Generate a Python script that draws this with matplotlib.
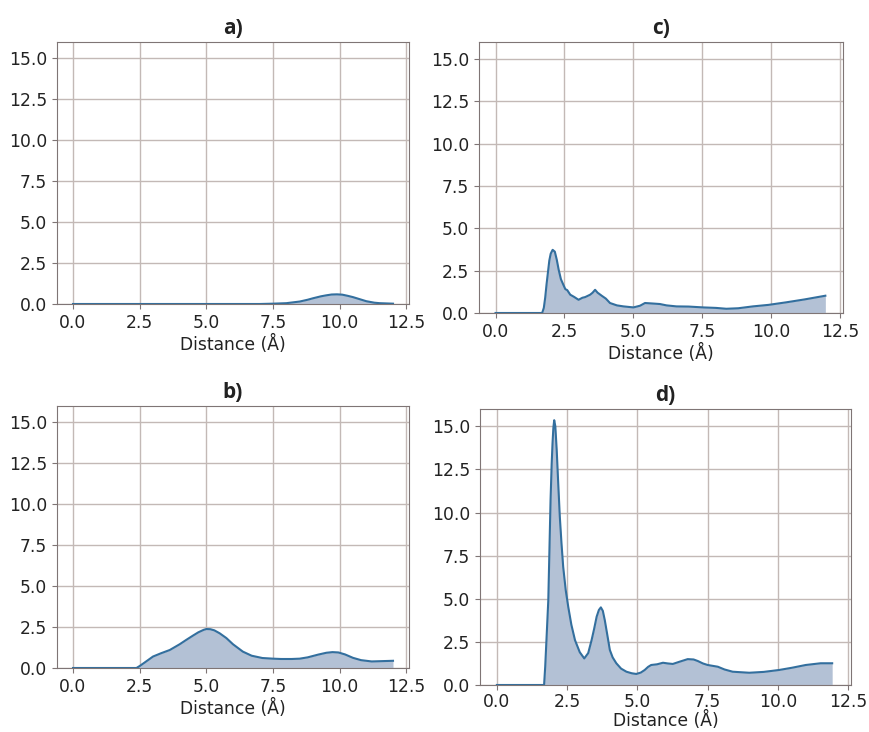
import matplotlib.pyplot as plt
import matplotlib

matplotlib.rcParams.update({'font.size': 12.3, 'text.color': '#222222',
                            'xtick.color': '#222222', 'ytick.color': '#222222',
                            'axes.labelcolor': '#222222'})

# panel a
xa = [0.0, 7.0, 7.5, 8.0, 8.5, 8.8, 9.0, 9.3, 9.5, 9.7, 9.9, 10.1, 10.3, 10.5, 10.8,
      11.0, 11.3, 11.5, 12.0]
ya = [0.0, 0.0, 0.02, 0.05, 0.15, 0.26, 0.35, 0.47, 0.53, 0.58, 0.59, 0.57, 0.5,
      0.42, 0.27, 0.17, 0.08, 0.05, 0.02]

# panel b
xb = [0.0, 2.38, 2.5, 2.7, 3.0, 3.3, 3.63, 4.0, 4.25, 4.5, 4.7, 4.9, 5.0, 5.15, 5.3,
      5.5, 5.75, 6.0, 6.37, 6.7, 7.1, 7.5, 7.8, 8.2, 8.5, 8.8, 9.2, 9.5, 9.73, 9.95,
      10.2, 10.5, 10.8, 11.2, 11.6, 12.0]
yb = [0.0, 0.0, 0.12, 0.35, 0.7, 0.9, 1.1, 1.45, 1.72, 1.98, 2.18, 2.33, 2.38, 2.37,
      2.3, 2.12, 1.83, 1.45, 1.0, 0.75, 0.61, 0.57, 0.55, 0.55, 0.57, 0.65, 0.82,
      0.93, 0.97, 0.95, 0.83, 0.62, 0.48, 0.4, 0.42, 0.44]

# panel c
xc = [0.0, 1.69, 1.75, 1.8, 1.85, 1.9, 1.95, 2.0, 2.07, 2.15, 2.22, 2.29, 2.37, 2.45,
      2.53, 2.6, 2.71, 2.85, 3.01, 3.15, 3.25, 3.43, 3.52, 3.61, 3.7, 3.85, 4.0,
      4.15, 4.4, 4.64, 5.0, 5.24, 5.42, 5.7, 5.96, 6.2, 6.56, 7.0, 7.53, 8.0, 8.37,
      8.8, 9.33, 9.9, 10.54, 11.2, 11.96]
yc = [0.0, 0.0, 0.3, 0.9, 1.7, 2.4, 3.1, 3.5, 3.73, 3.62, 3.15, 2.55, 2.0, 1.7, 1.41,
      1.35, 1.08, 0.95, 0.78, 0.9, 0.94, 1.08, 1.2, 1.37, 1.2, 1.02, 0.85, 0.59,
      0.45, 0.39, 0.33, 0.43, 0.59, 0.56, 0.53, 0.45, 0.39, 0.38, 0.33, 0.3, 0.25,
      0.28, 0.39, 0.48, 0.63, 0.8, 1.02]

# panel d
xd = [0.0, 1.68, 1.72, 1.77, 1.83, 1.87, 1.91, 1.95, 1.98, 2.01, 2.04, 2.08, 2.13,
      2.18, 2.24, 2.3, 2.36, 2.45, 2.54, 2.65, 2.78, 2.95, 3.11, 3.25, 3.37, 3.46,
      3.55, 3.63, 3.70, 3.77, 3.84, 3.93, 4.02, 4.12, 4.25, 4.42, 4.61, 4.8, 4.96,
      5.12, 5.26, 5.38, 5.49, 5.7, 5.91, 6.08, 6.26, 6.5, 6.79, 7.0, 7.15, 7.33,
      7.5, 7.86, 8.1, 8.39, 8.98, 9.5, 10.04, 10.5, 10.99, 11.52, 11.93]
yd = [0.0, 0.0, 1.06, 2.8, 4.92, 7.8, 10.7, 12.8, 14.0, 14.9, 15.35, 15.0, 13.6,
      11.8, 9.75, 8.2, 6.85, 5.5, 4.53, 3.5, 2.6, 1.9, 1.54, 1.85, 2.6, 3.25, 3.96,
      4.35, 4.5, 4.3, 3.76, 2.9, 2.03, 1.6, 1.26, 0.95, 0.77, 0.68, 0.64, 0.72,
      0.87, 1.05, 1.16, 1.2, 1.29, 1.25, 1.22, 1.35, 1.5, 1.48, 1.39, 1.25, 1.16,
      1.06, 0.9, 0.77, 0.71, 0.76, 0.87, 1.0, 1.16, 1.26, 1.26]

W, H = 869, 732
fig = plt.figure()
fig.set_size_inches(W/100, H/100)

panels = [
    ("a)", xa, ya, (57, 42, 409, 304)),
    ("c)", xc, yc, (479, 42, 843, 313)),
    ("b)", xb, yb, (57, 406, 409, 668)),
    ("d)", xd, yd, (480, 409, 851, 685)),
]

line_col = '#336f9e'
fill_col = '#b3c1d5'

for title, x, y, (l, t, r, b) in panels:
    ax = fig.add_axes([l/W, (H-b)/H, (r-l)/W, (b-t)/H])
    ax.fill_between(x, y, 0, color=fill_col, lw=0)
    ax.plot(x, y, color=line_col, lw=1.5)
    ax.set_xlim(-0.6, 12.6)
    ax.set_ylim(0, 16)
    ax.set_xticks([0, 2.5, 5, 7.5, 10, 12.5])
    ax.set_yticks([0, 2.5, 5, 7.5, 10, 12.5, 15])
    ax.grid(True, color='#c3b9b6', lw=1)
    ax.set_axisbelow(True)
    for s in ax.spines.values():
        s.set_color('#7f7575')
    ax.tick_params(color='#7f7575')
    if title == "d)":
        ax.tick_params(axis='x', pad=2)
        ax.set_xlabel("Distance (Å)", labelpad=0)
    else:
        ax.set_xlabel("Distance (Å)", labelpad=2)
    ax.set_title(title, fontweight='bold', fontsize=15, family='Open Sans', pad=6)

plt.savefig("out.png", dpi=100)
